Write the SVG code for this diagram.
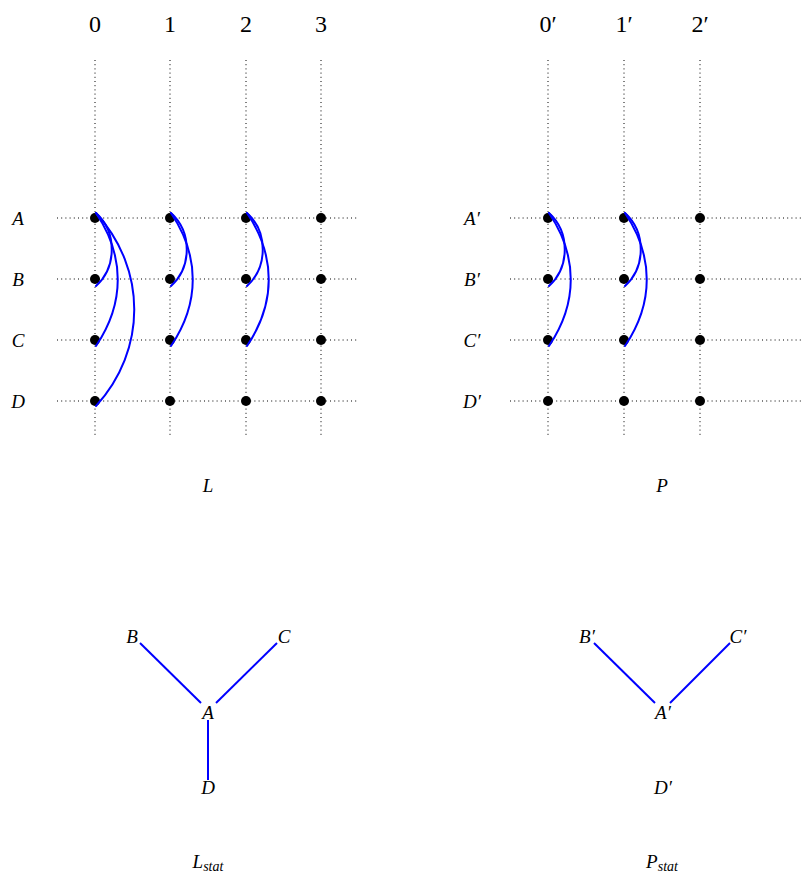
<svg xmlns="http://www.w3.org/2000/svg" width="804" height="878" viewBox="0 0 804 878">
<style>
.grid{stroke:#000;stroke-width:1;stroke-dasharray:1 3.2;fill:none}
.dot{fill:#000}
.arc{stroke:#0000ff;stroke-width:2;fill:none;stroke-linecap:round}
.edge{stroke:#0000ff;stroke-width:2;fill:none}
.num{font-family:'Liberation Serif','Times New Roman',serif;font-size:24px;text-anchor:middle}
.lab{font-family:'Liberation Serif','Times New Roman',serif;font-style:italic;font-size:19px;text-anchor:middle}
.sub{font-size:14px}
</style>
<rect width="804" height="878" fill="#fff"/>
<g id="grid-L">
<line class="grid" x1="95" y1="60" x2="95" y2="438"/>
<line class="grid" x1="170" y1="60" x2="170" y2="438"/>
<line class="grid" x1="246" y1="60" x2="246" y2="438"/>
<line class="grid" x1="321" y1="60" x2="321" y2="438"/>
<line class="grid" x1="57" y1="218" x2="358" y2="218"/>
<line class="grid" x1="57" y1="279" x2="358" y2="279"/>
<line class="grid" x1="57" y1="340" x2="358" y2="340"/>
<line class="grid" x1="57" y1="401" x2="358" y2="401"/>
</g>
<g id="grid-P">
<line class="grid" x1="548" y1="60" x2="548" y2="438"/>
<line class="grid" x1="624" y1="60" x2="624" y2="438"/>
<line class="grid" x1="700" y1="60" x2="700" y2="438"/>
<line class="grid" x1="510" y1="218" x2="804" y2="218"/>
<line class="grid" x1="510" y1="279" x2="804" y2="279"/>
<line class="grid" x1="510" y1="340" x2="804" y2="340"/>
<line class="grid" x1="510" y1="401" x2="804" y2="401"/>
</g>
<g id="col-labels">
<text class="num" x="95" y="32">0</text>
<text class="num" x="170" y="32">1</text>
<text class="num" x="246" y="32">2</text>
<text class="num" x="321" y="32">3</text>
<text class="num" x="548" y="32">0′</text>
<text class="num" x="624" y="32">1′</text>
<text class="num" x="700" y="32">2′</text>
</g>
<g id="row-labels">
<text class="lab" x="18" y="225">A</text>
<text class="lab" x="18" y="286">B</text>
<text class="lab" x="18" y="347">C</text>
<text class="lab" x="18" y="408">D</text>
<text class="lab" x="472" y="225">A′</text>
<text class="lab" x="472" y="286">B′</text>
<text class="lab" x="472" y="347">C′</text>
<text class="lab" x="472" y="408">D′</text>
</g>
<g id="dots-L">
<circle class="dot" cx="95" cy="218" r="5"/><circle class="dot" cx="170" cy="218" r="5"/><circle class="dot" cx="246" cy="218" r="5"/><circle class="dot" cx="321" cy="218" r="5"/>
<circle class="dot" cx="95" cy="279" r="5"/><circle class="dot" cx="170" cy="279" r="5"/><circle class="dot" cx="246" cy="279" r="5"/><circle class="dot" cx="321" cy="279" r="5"/>
<circle class="dot" cx="95" cy="340" r="5"/><circle class="dot" cx="170" cy="340" r="5"/><circle class="dot" cx="246" cy="340" r="5"/><circle class="dot" cx="321" cy="340" r="5"/>
<circle class="dot" cx="95" cy="401" r="5"/><circle class="dot" cx="170" cy="401" r="5"/><circle class="dot" cx="246" cy="401" r="5"/><circle class="dot" cx="321" cy="401" r="5"/>
</g>
<g id="dots-P">
<circle class="dot" cx="548" cy="218" r="5"/><circle class="dot" cx="624" cy="218" r="5"/><circle class="dot" cx="700" cy="218" r="5"/>
<circle class="dot" cx="548" cy="279" r="5"/><circle class="dot" cx="624" cy="279" r="5"/><circle class="dot" cx="700" cy="279" r="5"/>
<circle class="dot" cx="548" cy="340" r="5"/><circle class="dot" cx="624" cy="340" r="5"/><circle class="dot" cx="700" cy="340" r="5"/>
<circle class="dot" cx="548" cy="401" r="5"/><circle class="dot" cx="624" cy="401" r="5"/><circle class="dot" cx="700" cy="401" r="5"/>
</g>
<g id="connectors">
<path class="arc" d="M96,213 C117,232 117,267 96,286"/>
<path class="arc" d="M96,213 C125,256 125,303 96,346"/>
<path class="arc" d="M96,213 C147,269 147,350 96,406"/>
<path class="arc" d="M171,213 C192,232 192,267 171,286"/>
<path class="arc" d="M171,213 C200,256 200,303 171,346"/>
<path class="arc" d="M247,213 C268,232 268,267 247,286"/>
<path class="arc" d="M247,213 C276,256 276,303 247,346"/>
<path class="arc" d="M549,213 C570,232 570,267 549,286"/>
<path class="arc" d="M549,213 C578,256 578,303 549,346"/>
<path class="arc" d="M625,213 C646,232 646,267 625,286"/>
<path class="arc" d="M625,213 C654,256 654,303 625,346"/>
<line class="edge" x1="140" y1="643" x2="201" y2="703"/>
<line class="edge" x1="277" y1="643" x2="216" y2="703"/>
<line class="edge" x1="208" y1="720" x2="208" y2="780"/>
<line class="edge" x1="594" y1="643" x2="655" y2="703"/>
<line class="edge" x1="730" y1="643" x2="670" y2="703"/>
</g>
<g id="Lstat-B"><text class="lab" x="132" y="643">B</text></g>
<g id="Lstat-C"><text class="lab" x="284" y="643">C</text></g>
<g id="Lstat-A"><text class="lab" x="208" y="719">A</text></g>
<g id="Lstat-D"><text class="lab" x="208" y="794">D</text></g>
<g id="Pstat-B"><text class="lab" x="587" y="643">B′</text></g>
<g id="Pstat-C"><text class="lab" x="738" y="643">C′</text></g>
<g id="Pstat-A"><text class="lab" x="663" y="719">A′</text></g>
<g id="Pstat-D"><text class="lab" x="663" y="794">D′</text></g>
<g id="captions">
<text class="lab" x="208" y="492">L</text>
<text class="lab" x="662" y="492">P</text>
<text class="lab" x="208" y="868">L<tspan class="sub" dy="3">stat</tspan></text>
<text class="lab" x="662" y="868">P<tspan class="sub" dy="3">stat</tspan></text>
</g>
</svg>
